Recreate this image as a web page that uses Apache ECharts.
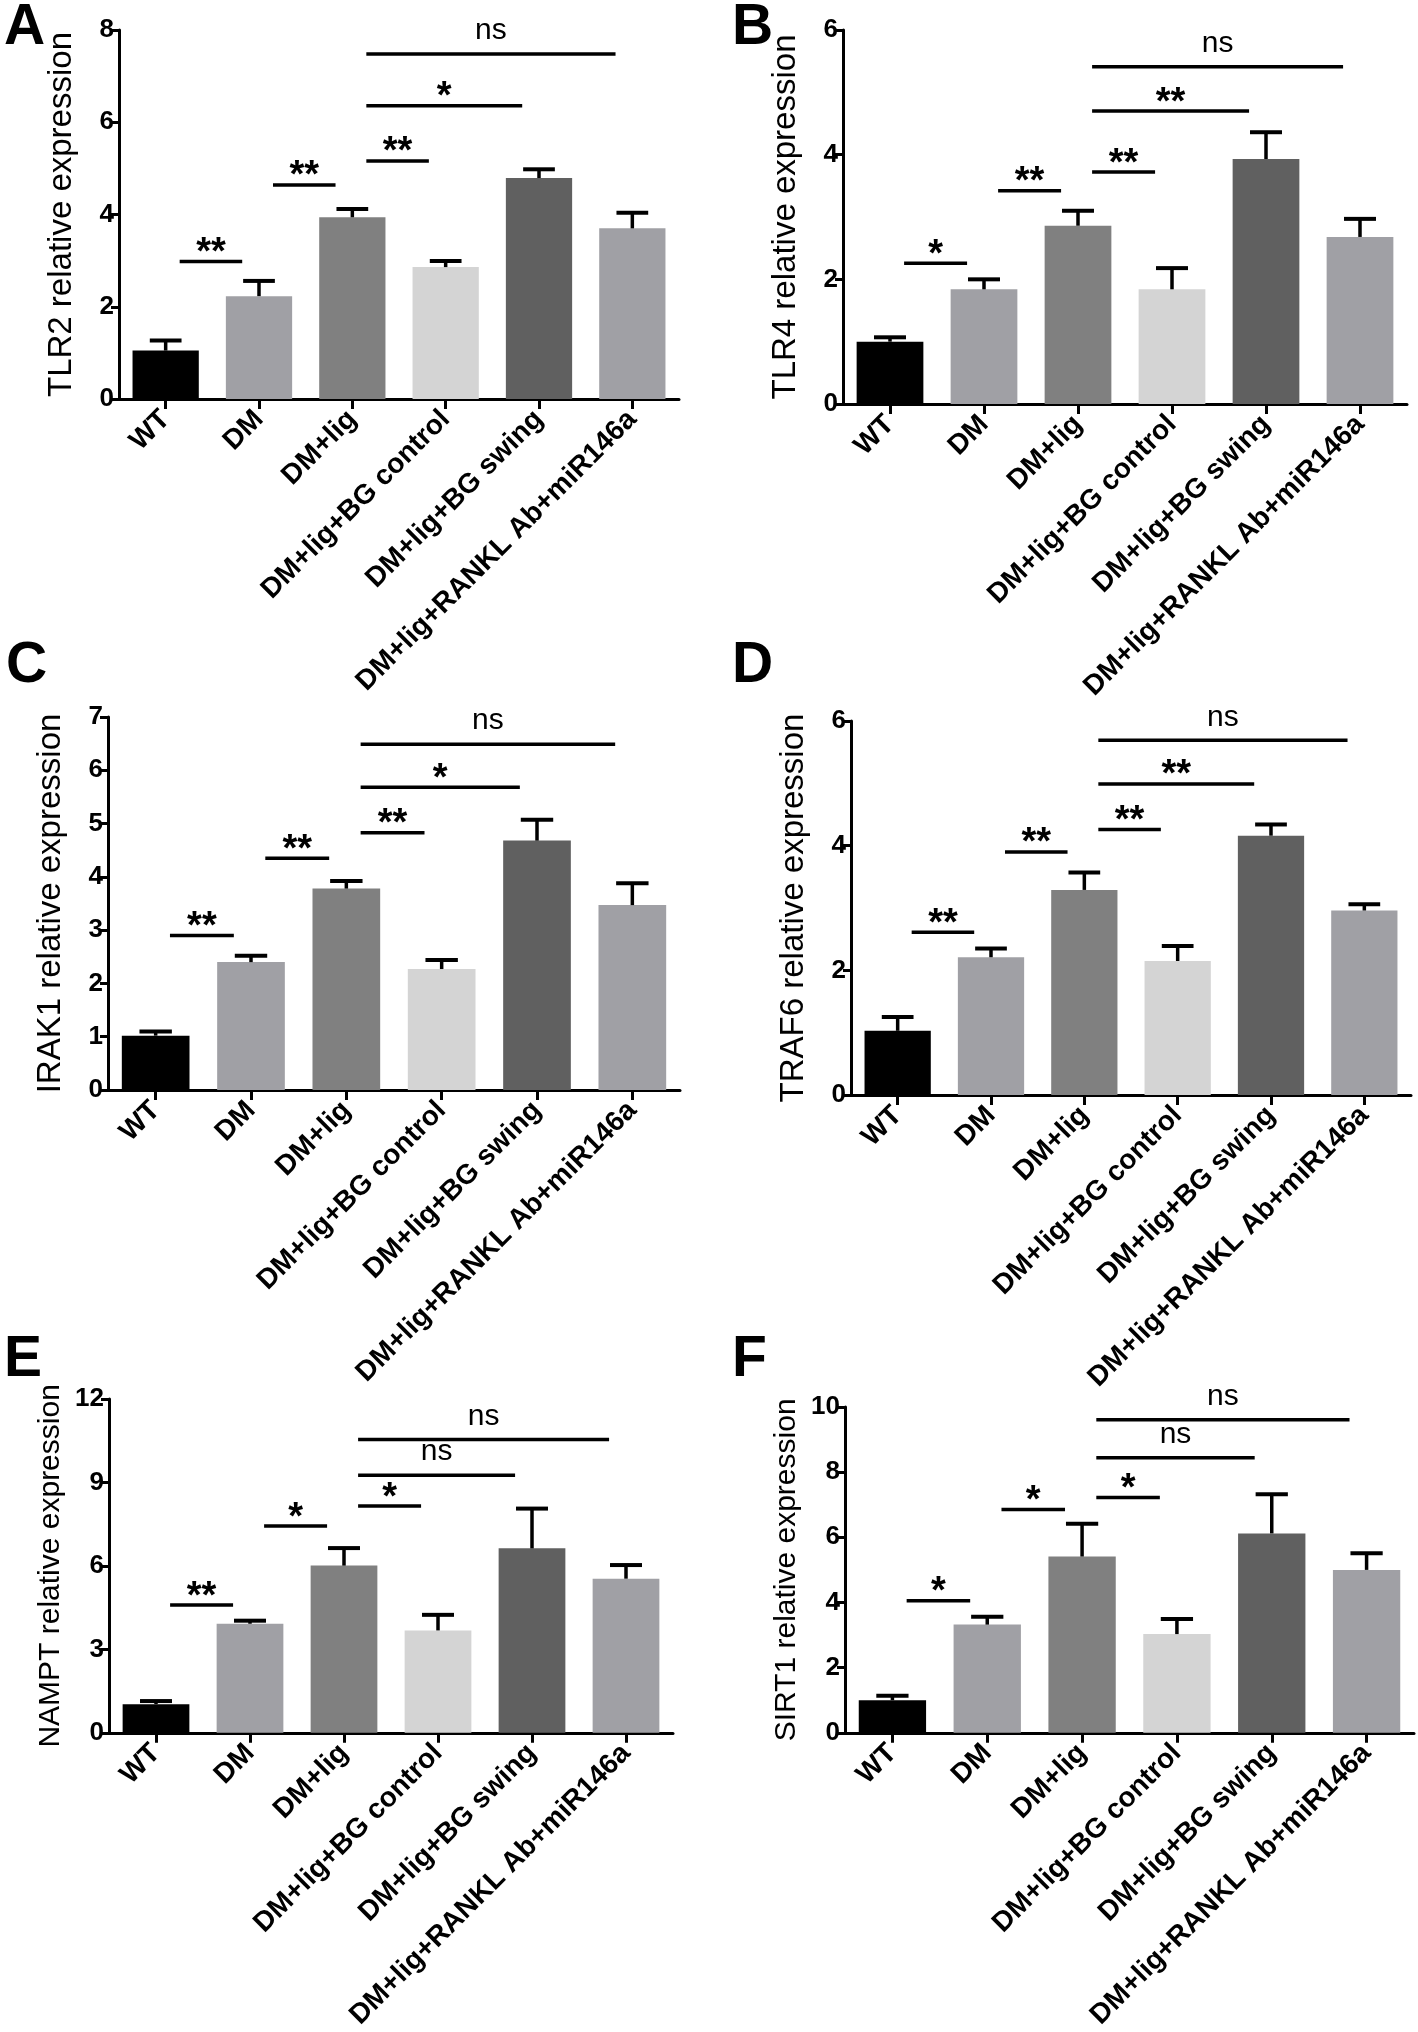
<!DOCTYPE html>
<html>
<head>
<meta charset="utf-8">
<script src="https://cdn.jsdelivr.net/npm/echarts@6/dist/echarts.min.js"></script>
<style>
  html, body { margin: 0; padding: 0; background: #fff; }
  #chart { width: 1418px; height: 2032px; }
</style>
</head>
<body>
<div id="chart"></div>
<script>
// ---------------- DATA ----------------
const categories = ['WT', 'DM', 'DM+lig', 'DM+lig+BG control', 'DM+lig+BG swing', 'DM+lig+RANKL Ab+miR146a'];

const tlr2Mean  = [1.05, 2.23, 3.94, 2.86, 4.79, 3.70];
const tlr2Err   = [0.22, 0.33, 0.18, 0.13, 0.19, 0.34];
const tlr4Mean  = [1.00, 1.84, 2.86, 1.84, 3.93, 2.68];
const tlr4Err   = [0.07, 0.16, 0.24, 0.34, 0.43, 0.29];
const irak1Mean = [1.02, 2.40, 3.78, 2.27, 4.68, 3.47];
const irak1Err  = [0.08, 0.12, 0.14, 0.17, 0.39, 0.41];
const traf6Mean = [1.03, 2.21, 3.29, 2.15, 4.16, 2.96];
const traf6Err  = [0.22, 0.14, 0.28, 0.24, 0.18, 0.10];
const namptMean = [1.03, 3.92, 6.01, 3.68, 6.63, 5.54];
const namptErr  = [0.11, 0.11, 0.63, 0.56, 1.43, 0.49];
const sirt1Mean = [1.00, 3.32, 5.41, 3.03, 6.12, 5.00];
const sirt1Err  = [0.14, 0.24, 1.01, 0.46, 1.20, 0.51];

// significance comparisons (group index from -> to)
const sigFrom = [0, 1, 2, 2, 2];
const sigTo   = [1, 2, 3, 4, 5];
const tlr2SigY  = [2.98, 4.64, 5.16, 6.36, 7.48];
const tlr2SigT  = ['**', '**', '**', '*', 'ns'];
const tlr4SigY  = [2.26, 3.42, 3.72, 4.70, 5.41];
const tlr4SigT  = ['*', '**', '**', '**', 'ns'];
const irak1SigY = [2.90, 4.35, 4.83, 5.68, 6.49];
const irak1SigT = ['**', '**', '**', '*', 'ns'];
const traf6SigY = [2.61, 3.90, 4.26, 4.99, 5.69];
const traf6SigT = ['**', '**', '**', '**', 'ns'];
const namptSigY = [4.59, 7.43, 8.15, 9.26, 10.54];
const namptSigT = ['**', '*', '*', 'ns', 'ns'];
const sirt1SigY = [4.05, 6.85, 7.22, 8.44, 9.61];
const sirt1SigT = ['*', '*', '*', 'ns', 'ns'];

// axis ranges / ticks
const yMax      = [8, 6, 7, 6, 12, 10];
const yInterval = [2, 2, 1, 2, 3, 2];
const yTitles   = ['TLR2 relative expression', 'TLR4 relative expression', 'IRAK1 relative expression',
                   'TRAF6 relative expression', 'NAMPT relative expression', 'SIRT1 relative expression'];
const panelLetters = ['A', 'B', 'C', 'D', 'E', 'F'];

// ---------------- STYLE / LAYOUT ----------------
const FONT = '"Liberation Sans", Arial, Helvetica, sans-serif';
const barColors = ['#000000', '#a0a0a5', '#808080', '#d4d4d4', '#606060', '#a0a0a5'];
const grids = [
  { left: 119, top: 30,   width: 560, height: 369 },
  { left: 843, top: 30,   width: 564, height: 374 },
  { left: 108, top: 717,  width: 572, height: 373 },
  { left: 851, top: 721,  width: 560, height: 374 },
  { left: 109, top: 1399, width: 564, height: 350 },
  { left: 845, top: 1407, width: 569, height: 341 }
];
const titleSizes = [33, 33, 33, 33, 30, 30];
const titleGaps  = [41, 41, 41, 41, 43, 43];
const letterPos = [[4, 0], [732, 0], [6, 638], [732, 638], [4, 1332], [732, 1332]];

const panels = [
  { mean: tlr2Mean,  err: tlr2Err,  sigY: tlr2SigY,  sigT: tlr2SigT },
  { mean: tlr4Mean,  err: tlr4Err,  sigY: tlr4SigY,  sigT: tlr4SigT },
  { mean: irak1Mean, err: irak1Err, sigY: irak1SigY, sigT: irak1SigT },
  { mean: traf6Mean, err: traf6Err, sigY: traf6SigY, sigT: traf6SigT },
  { mean: namptMean, err: namptErr, sigY: namptSigY, sigT: namptSigT },
  { mean: sirt1Mean, err: sirt1Err, sigY: sirt1SigY, sigT: sirt1SigT }
];

const option = {
  backgroundColor: '#ffffff',
  animation: false,
  grid: [], xAxis: [], yAxis: [], series: [], graphic: []
};

panels.forEach((p, k) => {
  option.grid.push(Object.assign({ containLabel: false }, grids[k]));
  option.xAxis.push({
    type: 'category', gridIndex: k, data: categories, boundaryGap: true,
    axisLine: { onZero: true, lineStyle: { color: '#000', width: 3 } },
    axisTick: { show: true, alignWithLabel: true, length: 10, lineStyle: { color: '#000', width: 3 } },
    axisLabel: { interval: 0, rotate: 45, margin: 16, color: '#000', fontFamily: FONT, fontWeight: 'bold', fontSize: 28 },
    splitLine: { show: false }
  });
  option.yAxis.push({
    type: 'value', gridIndex: k, min: 0, max: yMax[k], interval: yInterval[k],
    name: yTitles[k], nameLocation: 'middle', nameRotate: 90, nameGap: titleGaps[k],
    nameTextStyle: { color: '#000', fontFamily: FONT, fontSize: titleSizes[k] },
    axisLine: { show: true, lineStyle: { color: '#000', width: 3 } },
    axisTick: { show: true, length: 8, lineStyle: { color: '#000', width: 3 } },
    axisLabel: { color: '#000', fontFamily: FONT, fontWeight: 'bold', fontSize: 26, margin: 5 },
    splitLine: { show: false }
  });
  option.series.push({
    type: 'bar', xAxisIndex: k, yAxisIndex: k, barCategoryGap: '29%',
    data: p.mean.map((v, i) => ({ value: v, itemStyle: { color: barColors[i] } })),
    z: 2
  });
  option.series.push({
    type: 'custom', xAxisIndex: k, yAxisIndex: k, z: 3,
    data: p.mean.map((v, i) => [i, v, p.err[i]]),
    renderItem: function (params, api) {
      const i = api.value(0), m = api.value(1), e = api.value(2);
      const a = api.coord([i, m]);
      const b = api.coord([i, m + e]);
      const band = api.size([1, 0])[0];
      const hw = band * 0.17;
      return {
        type: 'group', children: [
          { type: 'line', shape: { x1: a[0], y1: a[1], x2: b[0], y2: b[1] }, style: { stroke: '#000', lineWidth: 3.5 } },
          { type: 'line', shape: { x1: b[0] - hw, y1: b[1], x2: b[0] + hw, y2: b[1] }, style: { stroke: '#000', lineWidth: 4 } }
        ]
      };
    }
  });
  const texts = p.sigT;
  option.series.push({
    type: 'custom', xAxisIndex: k, yAxisIndex: k, z: 4,
    data: p.sigY.map((y, j) => [sigFrom[j], sigTo[j], y]),
    renderItem: function (params, api) {
      const f = api.value(0), t = api.value(1), y = api.value(2);
      const band = api.size([1, 0])[0];
      const a = api.coord([f, y]);
      const b = api.coord([t, y]);
      const x1 = a[0] + band * 0.15, x2 = b[0] - band * 0.18;
      const txt = texts[params.dataIndex];
      const isNs = txt === 'ns';
      return {
        type: 'group', children: [
          { type: 'line', shape: { x1: x1, y1: a[1], x2: x2, y2: a[1] }, style: { stroke: '#000', lineWidth: 3.5 } },
          { type: 'text', style: {
              text: txt, x: (x1 + x2) / 2, y: a[1] + (isNs ? -8 : 11),
              textAlign: 'center', textVerticalAlign: 'bottom',
              font: isNs ? ('normal 30px ' + FONT) : ('bold 38px ' + FONT), fill: '#000'
          } }
        ]
      };
    }
  });
  option.graphic.push({
    type: 'text', left: letterPos[k][0], top: letterPos[k][1],
    style: { text: panelLetters[k], font: 'bold 57px ' + FONT, fill: '#000' }
  });
});

const chart = echarts.init(document.getElementById('chart'), null, { renderer: 'canvas' });
chart.setOption(option);
</script>
</body>
</html>
